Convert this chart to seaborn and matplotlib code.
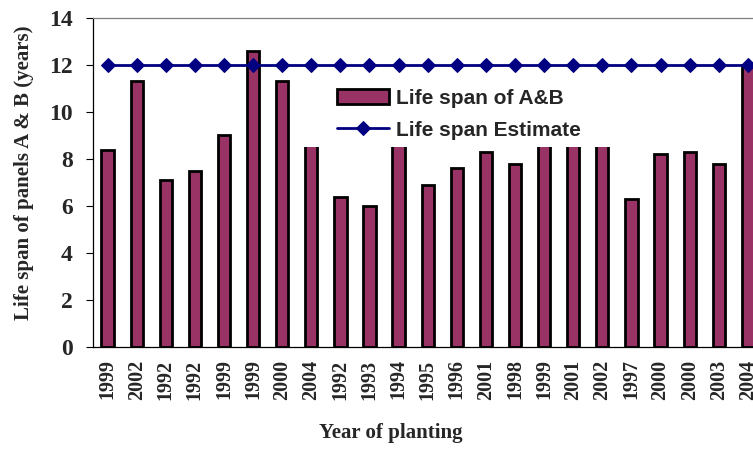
import pandas as pd
import matplotlib.pyplot as plt
from matplotlib.patches import Rectangle
import seaborn as sns

# Data
years = ['1999', '2002', '1992', '1992', '1999', '1999', '2000', '2004',
         '1992', '1993', '1994', '1995', '1996', '2001', '1998', '1999',
         '2001', '2002', '1997', '2000', '2000', '2003', '2004']
life_span = [8.4, 11.3, 7.1, 7.5, 9.0, 12.6, 11.3, 9.8, 6.4, 6.0, 10.2, 6.9,
             7.6, 8.3, 7.8, 9.6, 10.0, 9.4, 6.3, 8.2, 8.3, 7.8, 12.0]
estimate = [12, 12, 12, 12, 12, 12, 12, 12, 12, 12, 12, 12,
            12, 12, 12, 12, 12, 12, 12, 12, 12, 12, 12]
y_ticks = [0, 2, 4, 6, 8, 10, 12, 14]

df = pd.DataFrame({'idx': range(len(years)), 'life': life_span, 'est': estimate})

sns.set_style('white')
plt.rcParams['font.family'] = ['Liberation Serif', 'DejaVu Serif']

fig = plt.figure(figsize=(7.53, 4.5), dpi=100)
ax = fig.add_axes([0.1235, 0.2289, 0.889, 0.7311])

# Bars
sns.barplot(data=df, x='idx', y='life', color='#993366', saturation=1,
            width=0.42, edgecolor='black', linewidth=2,
            label='Life span of A&B', ax=ax)

# Estimate line
sns.lineplot(data=df, x='idx', y='est', color='#000080', linewidth=2,
             marker='D', markersize=7, markeredgecolor='#000080',
             label='Life span Estimate', ax=ax, zorder=3)

ax.set_xlim(-0.5, len(years) - 0.5)
ax.set_ylim(0, 14)
ax.set_yticks(y_ticks)
ax.set_yticklabels([str(t) for t in y_ticks], fontsize=17, fontweight='bold')

ax.set_xticks(range(len(years)))
ax.set_xticklabels(years, rotation=90, fontsize=14.5, fontweight='bold')
ax.tick_params(axis='x', which='major', length=0, pad=9)
ax.set_xticks([i - 0.5 for i in range(len(years) + 1)], minor=True)
ax.tick_params(axis='x', which='minor', direction='inout', length=9,
               width=0.8, color='black')
ax.tick_params(axis='y', direction='out', length=5, width=0.8,
               color='black', pad=9.5, left=True)

for side in ['left', 'bottom']:
    ax.spines[side].set_color('black')
    ax.spines[side].set_linewidth(0.9)
ax.spines['top'].set_color('#808080')
ax.spines['top'].set_linewidth(0.9)
ax.spines['right'].set_visible(False)

ax.set_xlabel('Year of planting', fontsize=15, fontweight='bold')
ax.set_ylabel('Life span of panels A & B (years)', fontsize=15,
              fontweight='bold')
ax.xaxis.set_label_coords(0.445, -0.23)
ax.yaxis.set_label_coords(-0.088, 0.53)

# White legend area covering bars behind it
ax.add_patch(Rectangle((0.309, 0.608), 0.486, 0.2, transform=ax.transAxes,
                       facecolor='white', edgecolor='none', zorder=2.5))

handles, labels = ax.get_legend_handles_labels()
order = [labels.index('Life span of A&B'), labels.index('Life span Estimate')]
ax.legend([handles[i] for i in order], [labels[i] for i in order],
          loc='upper left', bbox_to_anchor=(0.364, 0.785),
          frameon=False, borderaxespad=0, borderpad=0,
          handlelength=2.5, handletextpad=0.35, labelspacing=0.62,
          prop={'family': 'Liberation Sans', 'weight': 'bold', 'size': 15})

fig.savefig('out.png', dpi=100)
